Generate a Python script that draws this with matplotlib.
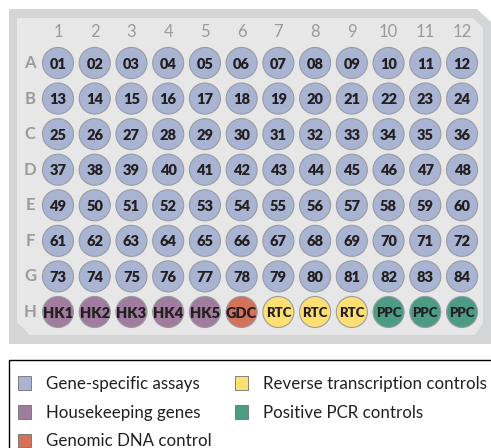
import matplotlib.pyplot as plt
from matplotlib.patches import Polygon, Patch, Rectangle

# plate layout data
row_names = ['A', 'B', 'C', 'D', 'E', 'F', 'G', 'H']
col_names = [str(c) for c in range(1, 13)]
assay_rows = row_names[:7]
control_labels = ['HK1', 'HK2', 'HK3', 'HK4', 'HK5', 'GDC',
                  'RTC', 'RTC', 'RTC', 'PPC', 'PPC', 'PPC']
control_kinds = ['HK', 'HK', 'HK', 'HK', 'HK', 'GDC',
                 'RTC', 'RTC', 'RTC', 'PPC', 'PPC', 'PPC']

legend_labels = ['Gene-specific assays', 'Housekeeping genes', 'Genomic DNA control',
                 'Reverse transcription controls', 'Positive PCR controls']
legend_kinds = ['GSA', 'HK', 'GDC', 'RTC', 'PPC']

COLORS = {'GSA': '#a8b4d2', 'HK': '#a07c9f', 'GDC': '#d3715a',
          'RTC': '#fedf72', 'PPC': '#4c9c84'}
EDGE = '#9a9ca3'
INK = '#231f20'
GRAY = '#9b9b9b'

W, H = 491, 448
fig = plt.figure(figsize=(W / 100, H / 100), dpi=100)

# background: pixel coordinates
bg = fig.add_axes([0, 0, 1, 1])
bg.set_xlim(0, W)
bg.set_ylim(H, 0)
bg.axis('off')
outer = [(9, 9), (477, 9), (491, 22), (491, 344), (9, 344)]
inner = [(17, 18), (473, 18), (483, 28), (483, 323), (475, 335), (30, 335), (17, 322)]
bg.add_patch(Polygon(outer, closed=True, fc='#d4d5d7', ec='none'))
bg.add_patch(Polygon(inner, closed=True, fc='#e7e7e8', ec='none'))
# legend box, runs off the right and bottom edges
bg.add_patch(Rectangle((9.5, 360.5), 520, 120, fc='white', ec='black', lw=1.0))

# wells: column / row index coordinates
ax = fig.add_axes([0, 0, 1, 1])
ax.set_xlim(-0.579, 12.789)
ax.set_ylim(11.824, -0.771)
ax.axis('off')

xs, ys, cs = [], [], []
for r, rn in enumerate(row_names, start=1):
    for c in range(1, 13):
        xs.append(c)
        ys.append(r)
        if rn in assay_rows:
            cs.append(COLORS['GSA'])
        else:
            cs.append(COLORS[control_kinds[c - 1]])
ax.scatter(xs, ys, s=500, c=cs, edgecolors=EDGE, linewidths=0.8, zorder=2)

for r, rn in enumerate(row_names, start=1):
    ax.text(0.24, r, rn, ha='center', va='center', color=GRAY,
            fontsize=12, family='Lato', fontweight='bold')
    for c in range(1, 13):
        if rn in assay_rows:
            lab = '%02d' % ((r - 1) * 12 + c)
            fs = 10.5
        else:
            lab = control_labels[c - 1]
            fs = 10.5 if control_kinds[c - 1] in ('HK', 'GDC') else 9.5
        ax.text(c, r + 0.03, lab, ha='center', va='center', color=INK,
                fontsize=fs, family='Lato', fontweight='heavy', zorder=3)

for c, cn in enumerate(col_names, start=1):
    ax.text(c, 0.14, cn, ha='center', va='center', color=GRAY,
            fontsize=12, family='Lato')

# legend
handles = [Patch(fc=COLORS[k], ec='#707070', lw=0.6) for k in legend_kinds]
leg = fig.legend(handles, legend_labels, ncol=2, loc='upper left',
                 bbox_to_anchor=(18 / W, 1 - 376 / H), frameon=False,
                 prop={'family': 'Lato', 'size': 12.2}, handlelength=0.75, handleheight=0.85,
                 handletextpad=0.9, columnspacing=1.4, labelspacing=0.75,
                 borderpad=0, borderaxespad=0)
for t in leg.get_texts():
    t.set_color(INK)

fig.savefig('out.png', dpi=100)
